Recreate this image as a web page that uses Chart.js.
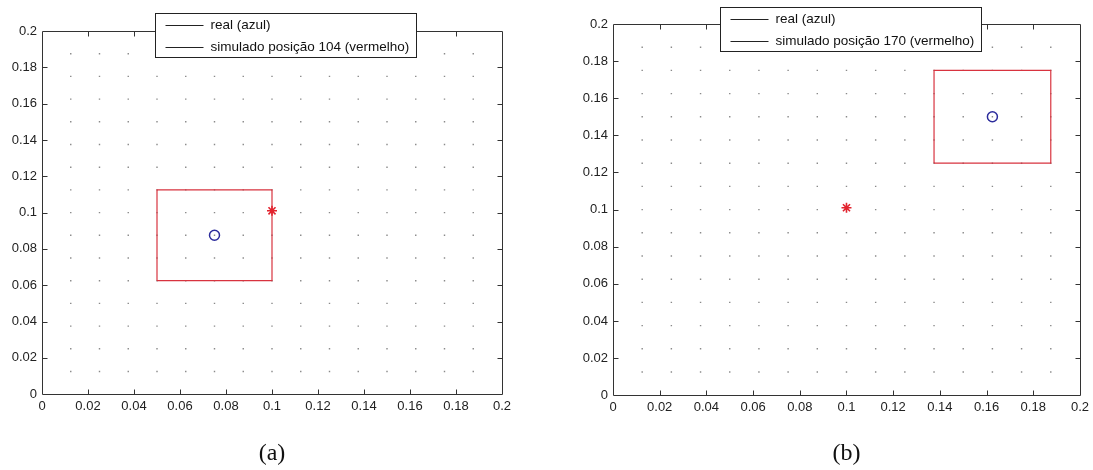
<!DOCTYPE html>
<html>
<head>
<meta charset="utf-8">
<title>posição real x simulada</title>
<script src="https://cdn.jsdelivr.net/npm/chart.js@4.4.1/dist/chart.umd.min.js"></script>
<style>
  html, body { margin: 0; padding: 0; background: #fff; }
  #wrap { position: relative; width: 1093px; height: 470px; overflow: hidden; }
  canvas { position: absolute; top: 0; }
  #graficoA { left: 0; }
  #graficoB { left: 546px; }
</style>
</head>
<body>
<div id="wrap">
  <canvas id="graficoA" width="546" height="470"></canvas>
  <canvas id="graficoB" width="547" height="470"></canvas>
</div>
<script>
// Dados

// ticks dos eixos (iguais em x e y)
const ticksEixo = [0, 0.02, 0.04, 0.06, 0.08, 0.1, 0.12, 0.14, 0.16, 0.18, 0.2];

// malha de pontos cinza (mesmas posições em x e y)
const malha = [0.0125, 0.025, 0.0375, 0.05, 0.0625, 0.075, 0.0875, 0.1,
               0.1125, 0.125, 0.1375, 0.15, 0.1625, 0.175, 0.1875];

// (a)
const legendaA = ['real (azul)', 'simulado posição 104 (vermelho)'];
const realA = { x: 0.075, y: 0.0875 };
const simuladoA = { x: 0.1, y: 0.101 };
const caixaAX = [0.05, 0.1, 0.1, 0.05, 0.05];
const caixaAY = [0.0625, 0.0625, 0.1125, 0.1125, 0.0625];

// (b)
const legendaB = ['real (azul)', 'simulado posição 170 (vermelho)'];
const realB = { x: 0.1625, y: 0.15 };
const simuladoB = { x: 0.1, y: 0.101 };
const caixaBX = [0.1375, 0.1875, 0.1875, 0.1375, 0.1375];
const caixaBY = [0.125, 0.125, 0.175, 0.175, 0.125];

const fonteEixo = '"Liberation Sans", Arial, sans-serif';

// moldura estilo MATLAB: caixa, ticks para dentro e legenda com borda
function criarMoldura(textos, dx, dy) {
    return {
        id: 'moldura',
        afterDraw(chart) {
            const { ctx, chartArea: a, scales } = chart;
            const sx = scales.x, sy = scales.y;
            const L = Math.round(a.left) + 0.5, R = Math.round(a.right) + 0.5;
            const T = Math.round(a.top) + 0.5, B = Math.round(a.bottom) + 0.5;
            ctx.save();
            ctx.strokeStyle = '#333';
            ctx.lineWidth = 1;
            ctx.beginPath();
            ctx.rect(L, T, R - L, B - T);
            sx.ticks.forEach(t => {
                if (t.value <= 0 || t.value >= 0.2) return;
                const px = Math.round(sx.getPixelForValue(t.value)) + 0.5;
                ctx.moveTo(px, B); ctx.lineTo(px, B - 5);
                ctx.moveTo(px, T); ctx.lineTo(px, T + 5);
            });
            sy.ticks.forEach(t => {
                if (t.value <= 0 || t.value >= 0.2) return;
                const py = Math.round(sy.getPixelForValue(t.value)) + 0.5;
                ctx.moveTo(L, py); ctx.lineTo(L + 5, py);
                ctx.moveTo(R, py); ctx.lineTo(R - 5, py);
            });
            ctx.stroke();

            // legenda
            ctx.font = '13.5px ' + fonteEixo;
            const larguraTexto = Math.max(...textos.map(t => ctx.measureText(t).width));
            const x0 = Math.round(a.left + dx) + 0.5;
            const y0 = Math.round(a.top + dy) + 0.5;
            const w = Math.round(55 + larguraTexto + 7);
            const h = 44;
            ctx.fillStyle = '#fff';
            ctx.fillRect(x0, y0, w, h);
            ctx.strokeStyle = '#222';
            ctx.strokeRect(x0, y0, w, h);
            ctx.fillStyle = '#111';
            ctx.textBaseline = 'middle';
            ctx.textAlign = 'left';
            textos.forEach((t, i) => {
                const ly = Math.round(y0 + 11 + i * 22.5) + 0.5;
                ctx.beginPath();
                ctx.moveTo(x0 + 10, ly);
                ctx.lineTo(x0 + 48, ly);
                ctx.strokeStyle = '#222';
                ctx.stroke();
                ctx.fillText(t, x0 + 55, ly);
            });
            ctx.restore();
        }
    };
}

function montarGrafico(id, cfg) {
    const pontosMalha = [];
    malha.forEach(gx => malha.forEach(gy => pontosMalha.push({ x: gx, y: gy })));

    const caixa = cfg.caixaX.map((v, i) => ({ x: v, y: cfg.caixaY[i] }));

    const eixo = (pos, tamanho) => ({
        type: 'linear',
        position: pos,
        min: 0,
        max: 0.2,
        afterBuildTicks: s => { s.ticks = ticksEixo.map(v => ({ value: v })); },
        afterFit: s => {
            if (pos === 'left') s.width = tamanho; else s.height = tamanho;
        },
        grid: { display: false, drawTicks: false },
        border: { display: false },
        ticks: {
            color: '#222',
            font: { family: fonteEixo, size: 13 },
            padding: pos === 'left' ? 5 : 4,
            maxRotation: 0,
            autoSkip: false,
            callback: v => String(+v.toFixed(3))
        }
    });

    return new Chart(document.getElementById(id), {
        type: 'scatter',
        data: {
            datasets: [
                {
                    label: 'simulado',
                    data: [cfg.simulado],
                    pointStyle: 'star',
                    pointRadius: 5,
                    borderColor: '#e2232e',
                    pointBorderWidth: 1.6,
                    backgroundColor: '#e2232e',
                    order: 1
                },
                {
                    label: 'real',
                    data: [cfg.real],
                    pointStyle: 'circle',
                    pointRadius: 5,
                    borderColor: '#2c2c9c',
                    backgroundColor: 'rgba(0,0,0,0)',
                    pointBorderWidth: 1.5,
                    order: 2
                },
                {
                    label: 'caixa',
                    data: caixa,
                    showLine: true,
                    pointRadius: 0,
                    borderColor: '#d8333f',
                    borderWidth: 1.2,
                    fill: false,
                    order: 3
                },
                {
                    label: 'malha',
                    data: pontosMalha,
                    pointRadius: 1,
                    pointStyle: 'rect',
                    backgroundColor: '#8a8a8a',
                    borderWidth: 0,
                    order: 4
                }
            ]
        },
        options: {
            responsive: false,
            animation: false,
            events: [],
            layout: { padding: { left: cfg.padEsq, right: cfg.padDir, top: cfg.padTopo, bottom: 0 } },
            scales: {
                x: eixo('bottom', cfg.alturaX),
                y: eixo('left', 42)
            },
            plugins: {
                legend: { display: false },
                tooltip: { enabled: false },
                title: {
                    display: true,
                    text: cfg.rotulo,
                    position: 'bottom',
                    fullSize: false,
                    color: '#111',
                    font: { family: '"Liberation Serif", "Times New Roman", serif', size: 24, weight: 'normal', lineHeight: 1.2 },
                    padding: { top: 9, bottom: 2 }
                }
            }
        },
        plugins: [criarMoldura(cfg.legenda, cfg.legDx, cfg.legDy)]
    });
}

montarGrafico('graficoA', {
    real: realA, simulado: simuladoA, caixaX: caixaAX, caixaY: caixaAY,
    legenda: legendaA, rotulo: '(a)',
    padEsq: 0, padDir: 44, padTopo: 31, alturaX: 36,
    legDx: 113, legDy: -18
});

montarGrafico('graficoB', {
    real: realB, simulado: simuladoB, caixaX: caixaBX, caixaY: caixaBY,
    legenda: legendaB, rotulo: '(b)',
    padEsq: 25, padDir: 13, padTopo: 24, alturaX: 35,
    legDx: 107, legDy: -17
});
</script>
</body>
</html>
